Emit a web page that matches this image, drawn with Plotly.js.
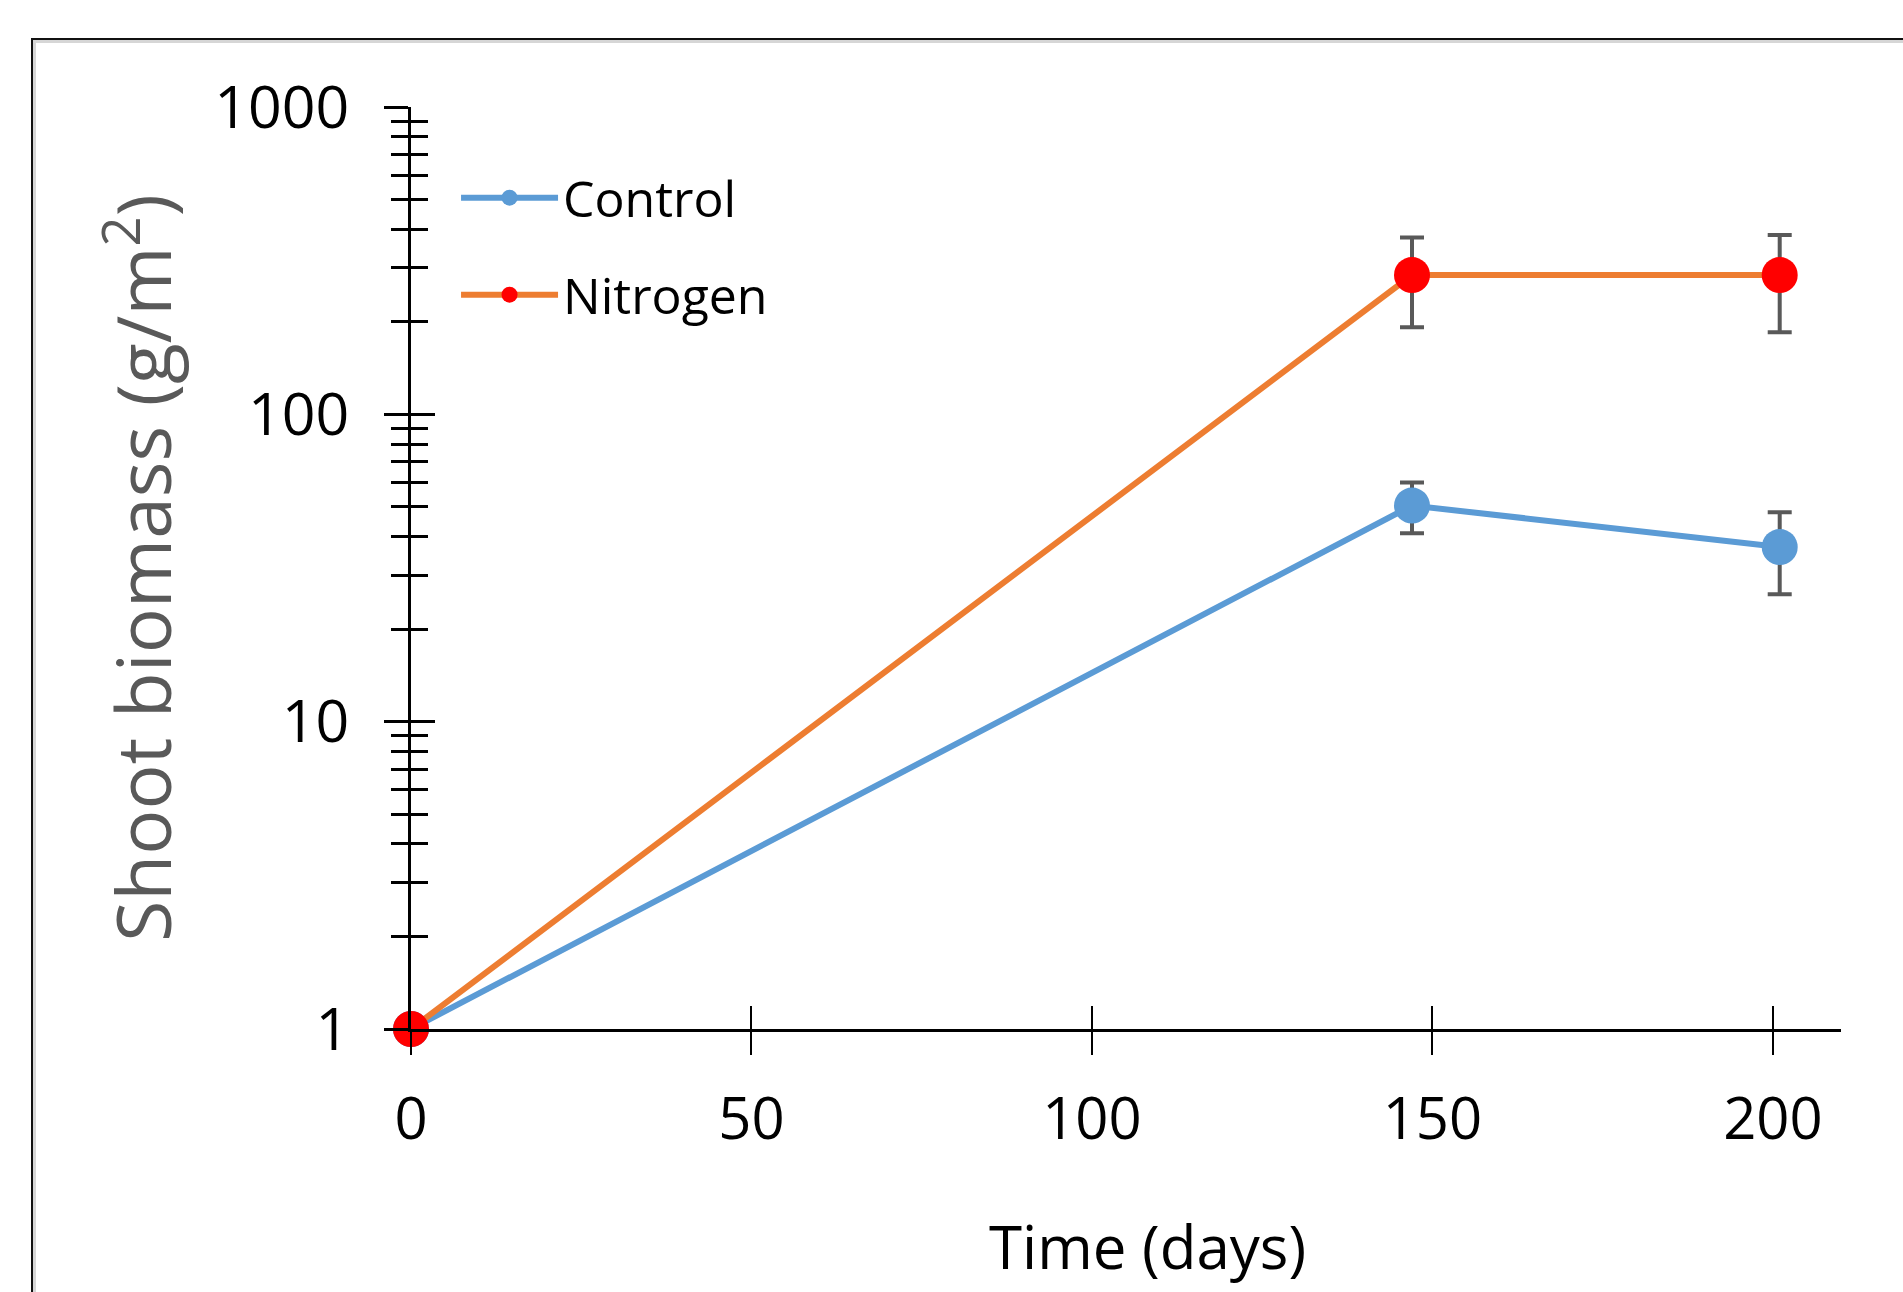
<!DOCTYPE html>
<html><head><meta charset="utf-8">
<script src="https://cdn.plot.ly/plotly-3.0.1.min.js"></script>
<style>
html,body{margin:0;padding:0;background:#fff;overflow:hidden}
#chart{width:1903px;height:1292px;position:absolute;left:0;top:0}
#frame{position:absolute;left:31px;top:38px;width:3000px;height:3000px;border-left:2px solid #111;border-top:2px solid #111;box-shadow:inset 3px 3px 0 #d6d6d6;pointer-events:none}
</style></head><body>
<div id="chart"></div><div id="frame"></div>
<script>
const days = [0, 147, 201];
const controlBiomass = [1, 50.5, 37];
const controlErr = [0, 9.5, 11];
const nitrogenBiomass = [1, 284, 284];
const nitrogenErr = [0, 92, 99];
const xTickVals = [0, 50, 100, 150, 200];
const yTickVals = [1, 10, 100, 1000];
const yTickText = ['1', '10', '100', '1000'];
const yMinorVals = [2,3,4,5,6,7,8,9,20,30,40,50,60,70,80,90,200,300,400,500,600,700,800,900];
const xTitle = 'Time (days)';
const yTitle = 'Shoot biomass (g/m<sup>2</sup>)';

const FONT = '"Open Sans", "Noto Sans", sans-serif';
const errStyle = {type:'data', visible:true, color:'#595959', thickness:4, width:12};

const control = {
  x: days, y: controlBiomass, name: 'Control', type: 'scatter', mode: 'lines+markers',
  line: {color:'#5B9BD5', width:6}, marker: {color:'#5B9BD5', size:36},
  error_y: Object.assign({array: controlErr}, errStyle),
  cliponaxis: false, legendgroup: 'a', xaxis: 'x', yaxis: 'y'
};
const nitrogen = {
  x: days, y: nitrogenBiomass, name: 'Nitrogen', type: 'scatter', mode: 'lines+markers',
  line: {color:'#ED7D31', width:6}, marker: {color:'#FF0000', size:36},
  error_y: Object.assign({array: nitrogenErr}, errStyle),
  cliponaxis: false, legendgroup: 'b', xaxis: 'x2', yaxis: 'y2'
};

const xBase = {range:[0,210], showgrid:false, zeroline:false, fixedrange:true};
const yBase = {type:'log', range:[0,3], showgrid:false, zeroline:false, fixedrange:true};

const layout = {
  width: 1903, height: 1292,
  margin: {l:411, r:62, t:107, b:263},
  paper_bgcolor: '#ffffff', plot_bgcolor: 'rgba(0,0,0,0)',
  font: {family: FONT, color:'#000'},
  showlegend: true,
  legend: {x:0.0315, xanchor:'left', y:0.944, yanchor:'top', font:{size:50, color:'#000', family:FONT},
           tracegroupgap:29, bgcolor:'rgba(0,0,0,0)', itemwidth:97},
  xaxis: Object.assign({}, xBase, {
    tickmode:'array', tickvals:xTickVals, ticks:'outside', ticklen:23, tickwidth:2, tickcolor:'#000',
    showline:true, linecolor:'#000', linewidth:3,
    tickfont:{size:58, color:'#000'}, ticklabelstandoff:14
  }),
  xaxis2: Object.assign({}, xBase, {
    overlaying:'x', anchor:'y', side:'bottom',
    tickmode:'array', tickvals:xTickVals, ticks:'inside', ticklen:23, tickwidth:2, tickcolor:'#000',
    showline:false, showticklabels:false
  }),
  yaxis: Object.assign({}, yBase, {
    tickmode:'array', tickvals:yTickVals, ticktext:yTickText, ticks:'outside', ticklen:24, tickwidth:3, tickcolor:'#000',
    minor:{tickmode:'array', tickvals:yMinorVals, ticks:'outside', ticklen:17, tickwidth:3, tickcolor:'#000', showgrid:false},
    showline:true, linecolor:'#000', linewidth:3,
    tickfont:{size:59, color:'#000'}, ticklabelstandoff:23,
    title:{text:yTitle, font:{size:75, color:'#595959'}, standoff:18}
  }),
  yaxis2: Object.assign({}, yBase, {
    overlaying:'y', anchor:'x', side:'left',
    tickmode:'array', tickvals:yTickVals, ticks:'inside', ticklen:24, tickwidth:3, tickcolor:'#000',
    minor:{tickmode:'array', tickvals:yMinorVals, ticks:'inside', ticklen:17, tickwidth:3, tickcolor:'#000', showgrid:false},
    showline:false, showticklabels:false
  }),
  annotations: [{
    text: xTitle, xref:'paper', yref:'paper', x:0.515, y:-0.2354, xanchor:'center', yanchor:'middle',
    showarrow:false, font:{size:60, color:'#000', family:FONT}
  }]
};

Plotly.newPlot('chart', [control, nitrogen], layout, {staticPlot:true, displayModeBar:false});
</script>
</body></html>
